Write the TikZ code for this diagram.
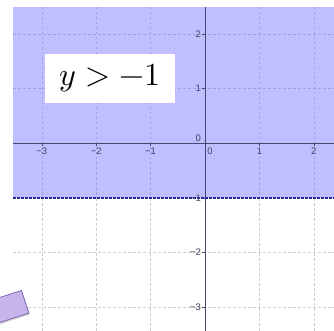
\documentclass[tikz,border=0pt]{standalone}
\usepackage{fontspec}
\usepackage{unicode-math}
\setmathfont{Latin Modern Math}
\newfontfamily\labfont{Liberation Sans}
\usetikzlibrary{shadows}
\definecolor{halfcol}{RGB}{191,191,255}
\definecolor{axiscol}{RGB}{70,70,110}
\definecolor{bound}{RGB}{40,40,160}
\definecolor{gridcol}{RGB}{205,205,205}
\definecolor{gridshd}{RGB}{160,160,225}
\definecolor{labcol}{RGB}{65,65,95}
\definecolor{boxfill}{RGB}{200,182,235}
\definecolor{boxdraw}{RGB}{120,90,180}
\tikzset{
  gridline/.style={draw=gridcol,line width=0.6pt,dash pattern=on 2.5pt off 2.5pt},
  gridshade/.style={draw=gridshd,line width=0.6pt,dash pattern=on 2.5pt off 2.5pt},
  axisline/.style={draw=axiscol,line width=0.8pt},
  boundline/.style={draw=bound,line width=1.3pt,dash pattern=on 2.5pt off 1.5pt},
  ticklab/.style={font=\labfont\fontsize{9.5}{11}\selectfont,text=labcol,inner sep=0pt},
  mathbox/.style={fill=white,minimum width=130pt,minimum height=48.7pt,inner sep=0pt,font=\fontsize{32}{38}\selectfont},
  purplebox/.style={fill=boxfill,draw=boxdraw,line width=0.7pt,minimum width=90pt,minimum height=23.8pt,rotate=18,drop shadow={shadow xshift=1pt,shadow yshift=-1.5pt,opacity=0.35}}
}
\begin{document}
\begin{tikzpicture}[x=1pt,y=-1pt]
\useasboundingbox (0,0) rectangle (334,331);
\clip (0,0) rectangle (334,331);
% shaded half-plane
\fill[halfcol] (13,7) rectangle (334,198);
% grid
\foreach \gx in {41.8,96.2,150.6,259.4,313.8}{
  \draw[gridshade] (\gx,7) -- (\gx,198);
  \draw[gridline] (\gx,198) -- (\gx,331);
}
\foreach \gy in {34.1,88.7}{
  \draw[gridshade] (13,\gy) -- (334,\gy);
}
\foreach \gy in {252.5,307.1}{
  \draw[gridline] (13,\gy) -- (334,\gy);
}
% axes
\coordinate (xl) at (13,143.3);
\coordinate (xr) at (334,143.3);
\coordinate (yt) at (205,7);
\coordinate (yb) at (205,331);
\draw[axisline] (xl) -- (xr);
\draw[axisline] (yt) -- (yb);
% ticks
\foreach \gx in {41.8,96.2,150.6,259.4,313.8}{
  \draw[axiscol,line width=0.6pt] (\gx,143.3) -- (\gx,146);
}
\foreach \gy in {34.1,88.7,197.9,252.5,307.1}{
  \draw[axiscol,line width=0.6pt] (202.3,\gy) -- (205,\gy);
}
% boundary line y=-1
\coordinate (bl) at (13,198);
\coordinate (br) at (334,198);
\draw[boundline] (bl) -- (br);
% tick labels
\node[ticklab] (xm3) at (41.8,151.5) {−3};
\node[ticklab] (xm2) at (96.2,151.5) {−2};
\node[ticklab] (xm1) at (150.6,151.5) {−1};
\node[ticklab] (x0) at (210,151.5) {0};
\node[ticklab] (x1) at (259.4,151.5) {1};
\node[ticklab] (x2) at (313.8,151.5) {2};
\node[ticklab,anchor=east] (y2) at (201,34.1) {2};
\node[ticklab,anchor=east] (y1) at (201,88.7) {1};
\node[ticklab,anchor=east] (y0) at (201,138.3) {0};
\node[ticklab,anchor=east] (ym1) at (201,198.5) {−1};
\node[ticklab,anchor=east] (ym2) at (201,252.5) {−2};
\node[ticklab,anchor=east] (ym3) at (201,307.1) {−3};
% text box
\node[mathbox] (ineq) at (110,78.4) {$y>-1$};
% purple box
\node[purplebox,anchor=north east] (pbox) at (21.7,290) {};
\end{tikzpicture}
\end{document}
